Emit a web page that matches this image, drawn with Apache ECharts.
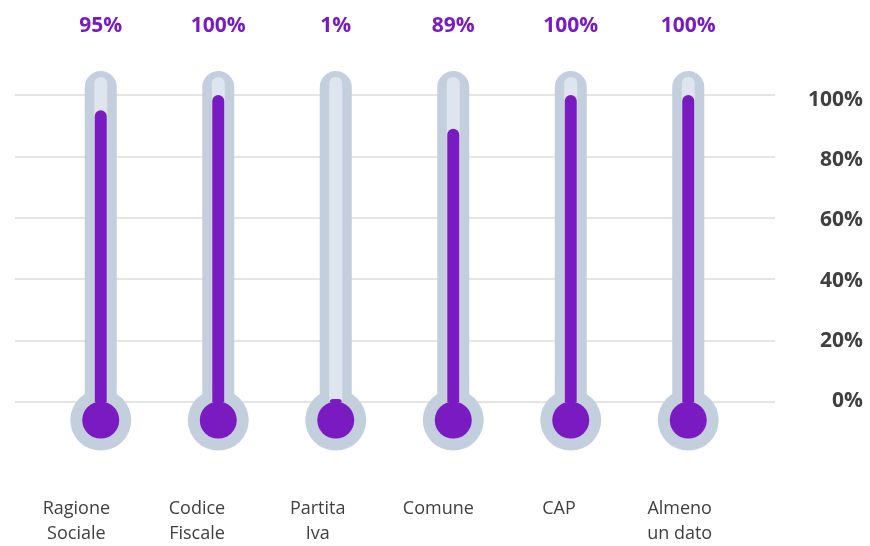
<!DOCTYPE html>
<html>
<head>
<meta charset="utf-8">
<script src="https://cdn.jsdelivr.net/npm/echarts@6/dist/echarts.min.js"></script>
<style>
  html, body { margin: 0; padding: 0; background: #fff; }
  #chart { width: 870px; height: 546px; }
</style>
</head>
<body>
<div id="chart"></div>
<script>
// dati
const categories = ['Ragione\nSociale', 'Codice\nFiscale', 'Partita\nIva', 'Comune', 'CAP', 'Almeno\nun dato']
const values = [95, 100, 1, 89, 100, 100]
const yTicks = [0, 20, 40, 60, 80, 100]

const PURPLE = '#7a1bc2'
const TUBE = '#c3cfdc'
const TUBE_IN = '#dfe5ee'

const tubeTop = categories.map(() => 107.8)
const innerTop = categories.map(() => 105.9)
const bulbPos = categories.map(() => -5.9)

// asse categorie nascosto, uno per ogni strato del termometro
const layerAxis = (i) => ({
  gridIndex: 1,
  type: 'category',
  data: categories,
  show: false,
  id: 'layer' + i
})

const chart = echarts.init(document.getElementById('chart'))
chart.setOption({
  animation: false,
  textStyle: { fontFamily: '"Open Sans", sans-serif' },
  grid: [
    // griglia
    { left: 15, right: 95, top: 95, bottom: 144 },
    // termometri
    { left: 42, right: 123, top: 95, bottom: 144 },
    // etichette categorie
    { left: 16, right: 130, top: 95, bottom: 144 },
    // etichette percentuali
    { left: 15, right: 95, top: 100, bottom: 145 }
  ],
  xAxis: [
    { gridIndex: 0, type: 'value', show: false },
    {
      gridIndex: 1,
      type: 'category',
      position: 'top',
      data: values.map(v => v + '%'),
      axisLine: { show: false },
      axisTick: { show: false },
      axisLabel: {
        margin: 58,
        color: PURPLE,
        fontSize: 21,
        fontWeight: 'bold'
      }
    },
    {
      gridIndex: 2,
      type: 'category',
      data: categories,
      axisLine: { show: false },
      axisTick: { show: false },
      axisLabel: {
        margin: 96,
        color: '#404040',
        fontSize: 18,
        lineHeight: 25
      }
    },
    layerAxis(1),
    layerAxis(2),
    { gridIndex: 3, type: 'value', show: false }
  ],
  yAxis: [
    {
      gridIndex: 0,
      type: 'value',
      min: 0,
      max: 100,
      interval: 20,
      axisLine: { show: false },
      axisTick: { show: false },
      axisLabel: { show: false },
      splitLine: { lineStyle: { color: '#e4e4e4', width: 2 } }
    },
    { gridIndex: 1, type: 'value', min: 0, max: 100, show: false },
    { gridIndex: 2, type: 'value', min: 0, max: 100, show: false },
    {
      gridIndex: 3,
      type: 'value',
      position: 'right',
      min: 0,
      max: 100,
      interval: 20,
      axisLine: { show: false },
      axisTick: { show: false },
      splitLine: { show: false },
      axisLabel: {
        formatter: v => yTicks.includes(v) ? v + '%' : '',
        align: 'right',
        margin: 88,
        color: '#404040',
        fontSize: 21,
        fontWeight: 'bold'
      }
    }
  ],
  series: [
    {
      type: 'bar',
      xAxisIndex: 1,
      yAxisIndex: 1,
      data: tubeTop,
      barWidth: 32,
      clip: false,
      z: 2,
      itemStyle: { color: TUBE, borderRadius: [16, 16, 0, 0] }
    },
    {
      type: 'scatter',
      xAxisIndex: 1,
      yAxisIndex: 1,
      data: bulbPos,
      symbolSize: 61,
      clip: false,
      z: 2,
      itemStyle: { color: TUBE, opacity: 1 }
    },
    {
      type: 'bar',
      xAxisIndex: 3,
      yAxisIndex: 1,
      data: innerTop,
      barWidth: 13,
      clip: false,
      z: 3,
      itemStyle: { color: TUBE_IN, borderRadius: [7, 7, 0, 0] }
    },
    {
      type: 'bar',
      xAxisIndex: 4,
      yAxisIndex: 1,
      data: values,
      barWidth: 12,
      clip: false,
      z: 4,
      itemStyle: { color: PURPLE, borderRadius: [6, 6, 0, 0] }
    },
    {
      type: 'scatter',
      xAxisIndex: 1,
      yAxisIndex: 1,
      data: bulbPos,
      symbolSize: 37,
      clip: false,
      z: 5,
      itemStyle: { color: PURPLE, opacity: 1 }
    }
  ]
})
</script>
</body>
</html>
